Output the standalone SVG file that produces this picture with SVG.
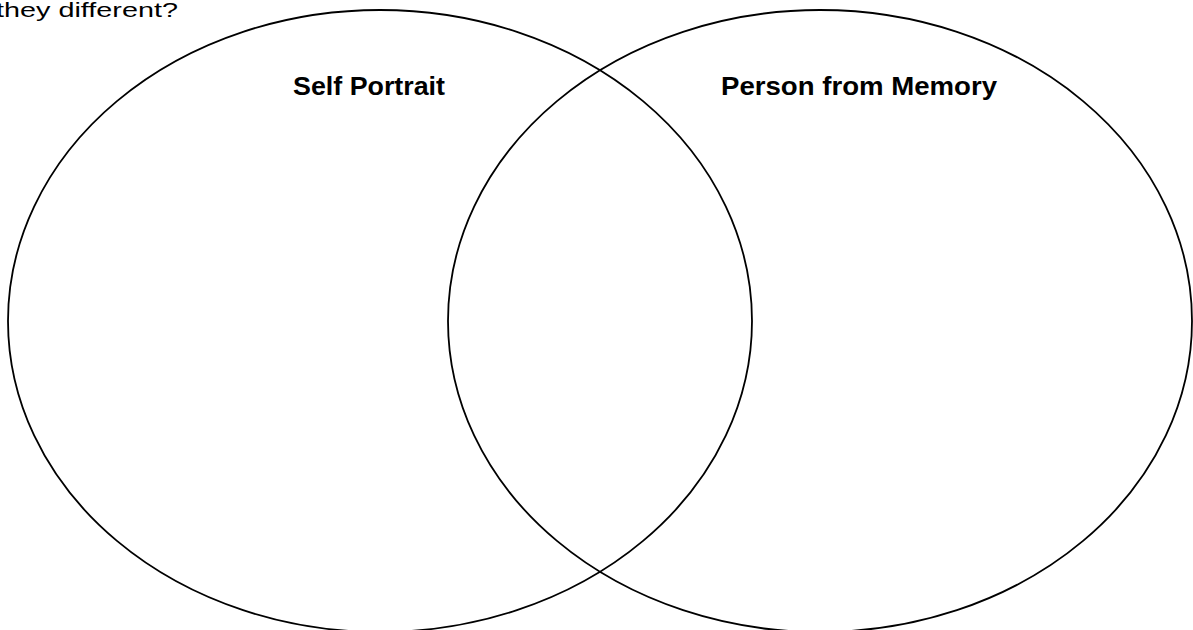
<svg xmlns="http://www.w3.org/2000/svg" width="1193" height="630" viewBox="0 0 1193 630">
  <style>
    .circle { fill: none; stroke: #000; stroke-width: 1.8; }
    .label { font-family: "Liberation Sans", Arial, sans-serif; font-weight: bold; font-size: 26px; fill: #000; }
    .q { font-family: "Liberation Sans", Arial, sans-serif; font-size: 21px; fill: #000; }
  </style>
  <rect x="0" y="0" width="1193" height="630" fill="#fff"/>
  <text class="q" x="-4" y="17" textLength="182" lengthAdjust="spacingAndGlyphs">they different?</text>
  <g id="set-self-portrait">
    <ellipse class="circle" cx="380" cy="321" rx="372" ry="311"/>
    <text class="label" x="293" y="95" textLength="152" lengthAdjust="spacingAndGlyphs">Self Portrait</text>
  </g>
  <g id="set-person-from-memory">
    <ellipse class="circle" cx="820" cy="321" rx="372" ry="311"/>
    <text class="label" x="721" y="95" textLength="276" lengthAdjust="spacingAndGlyphs">Person from Memory</text>
  </g>
  <g id="connectors"></g>
</svg>
